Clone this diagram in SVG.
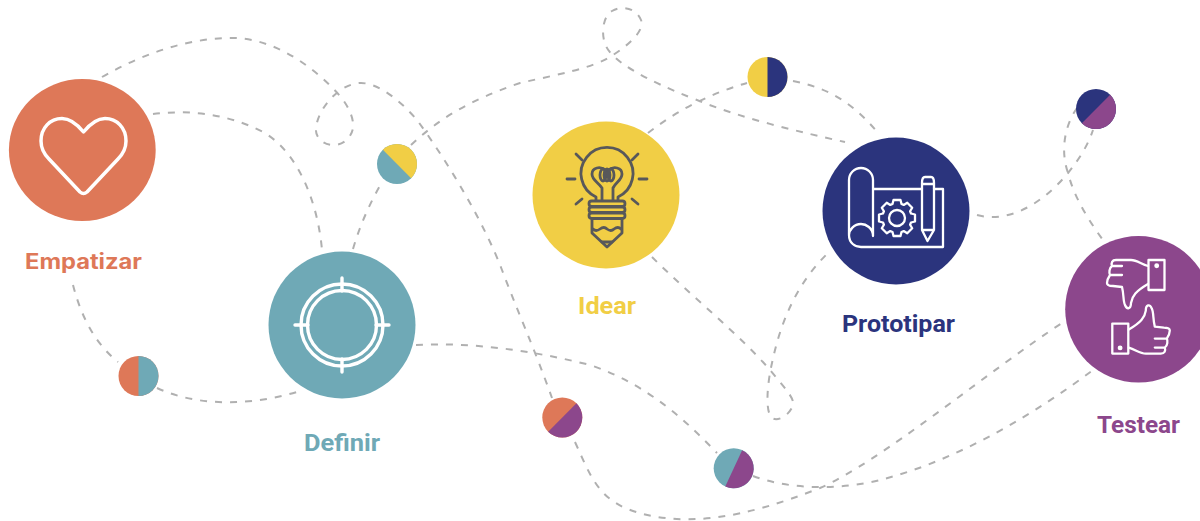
<svg xmlns="http://www.w3.org/2000/svg" xmlns:xlink="http://www.w3.org/1999/xlink" width="1200" height="521" viewBox="0 0 1200 521">
<style>
.c{fill:none;stroke:#b0b0b0;stroke-width:2;stroke-dasharray:7 8}
.w{fill:none;stroke:#fff;stroke-linecap:round;stroke-linejoin:round}
.b{fill:none;stroke:#58585a;stroke-width:2.800;stroke-linecap:round;stroke-linejoin:round}
.t{font-family:Roboto,"Liberation Sans",sans-serif;font-weight:700;font-size:23px}
.m{font-family:Inter,"Liberation Sans",sans-serif;font-weight:700;font-size:21px}
.org{fill:#de7858}.tea{fill:#6fa9b6}.yel{fill:#f1ce45}.nav{fill:#2b347d}.pur{fill:#8c478c}
</style>
<defs>
<path id="half" d="M0-20A20 20 0 0 1 0 20Z"/>
<g id="thumb" class="w" stroke-width="2.300">
<rect x="1148.500" y="260" width="16" height="30"/>
<circle cx="1156.700" cy="265.700" r="1.300" fill="#fff"/>
<path d="M1148 266C1141 264 1137 260 1131 260L1116 260C1112 260 1111 263 1112 266L1122 266M1112 266C1109 268 1109 273 1110 275L1122 275M1110 275C1108 278 1107 281 1107 283C1107 286 1110 286 1113 286L1122 287C1124 295 1123 301 1125 305C1127 310 1131 309 1131 303C1132 296 1136 291 1148 284"/>
</g>
</defs>
<rect width="1200" height="521" fill="#fff"/>
<g id="connectors">
<path class="c" d="M102 77C146 52 190 38 232 38C278 38 319 72 340 96C350 108 354 120 353 128C351 140 340 146 332 145C322 144 315 137 316 128C318 108 340 83 361 83C378 83 400 100 417 120C450 165 485 225 502 270C515 305 535 350 552 398"/>
<path class="c" d="M153 114C185 110 225 112 265 133C300 155 318 205 322 250"/>
<path class="c" d="M73 285C82 320 97 345 118 362"/>
<path class="c" d="M157 388C200 408 255 405 300 391"/>
<path class="c" d="M353 249C360 225 370 203 381 184"/>
<path class="c" d="M411 145C440 118 470 100 520 83C555 75 595 68 613 55C630 44 645 30 641 20C636 8 622 5 612 11C602 17 601 36 606 46C612 60 640 78 697 100C740 118 800 132 845 142"/>
<path class="c" d="M648 133C680 108 715 92 747 83"/>
<path class="c" d="M793 81C830 88 855 105 878 133"/>
<path class="c" d="M652 257C690 295 740 335 770 370C782 385 795 398 793 405C790 415 778 422 772 418C765 412 767 385 772 363C780 325 795 285 828 253"/>
<path class="c" d="M416 345C470 342 530 350 590 365C650 385 690 425 717 453"/>
<path class="c" d="M575 442C590 475 597 495 625 508C680 530 745 518 820 488C880 462 990 370 1062 323"/>
<path class="c" d="M753 476C790 490 840 490 880 480C960 460 1040 410 1093 370"/>
<path class="c" d="M977 215C1015 225 1050 195 1068 173C1080 158 1088 145 1093 130"/>
<path class="c" d="M1077 108C1065 125 1060 150 1068 173C1075 200 1090 222 1105 243"/>
</g>
<g id="empatizar">
<ellipse class="org" cx="82.300" cy="150" rx="73.400" ry="71"/>
<path class="w" stroke-width="3.500" d="M83.500 132C77 124 70 118.500 62 118.500C50 118.500 41 128 41 141C41 149 44 154 49 159L80 192Q83.500 195 87 192L118 159C123 154 126 149 126 141C126 128 117 118.500 105 118.500C97 118.500 90 124 83.500 132Z"/>
<text class="m org" x="25" y="269" textLength="117" lengthAdjust="spacingAndGlyphs">Empatizar</text>
</g>
<g id="definir">
<circle class="tea" cx="342" cy="325" r="73.500"/>
<g class="w" stroke-width="3.400">
<circle cx="342" cy="325" r="41"/>
<circle cx="342" cy="325" r="34.500"/>
<path d="M342 278V291M342 359V372M295 325H308M376 325H389"/>
</g>
<text class="t tea" x="304" y="451" textLength="76" lengthAdjust="spacingAndGlyphs">Definir</text>
</g>
<g id="idear">
<circle class="yel" cx="606" cy="195" r="73.500"/>
<g class="b">
<path d="M567 179H575M639 179H647M576 154L582 160M638 154L632 160M576 204L582 199M638 204L632 199"/>
<path d="M596 200L596 197A26 26 0 1 1 618 197L618 200"/>
<path d="M602 200V188C598 182 592 180 592 174C592 168 600 165 607 171C614 165 622 168 622 174C622 180 616 182 613 188V200"/>
<ellipse cx="603" cy="175" rx="3" ry="6"/><ellipse cx="607" cy="175" rx="3" ry="6"/><ellipse cx="611" cy="175" rx="3" ry="6"/>
<rect x="589" y="201" width="36" height="5.500" rx="2.700"/>
<rect x="589" y="207" width="36" height="5.500" rx="2.700"/>
<rect x="589" y="213" width="36" height="5.500" rx="2.700"/>
<path d="M592 219V233L607 247L622 233V219"/>
<path d="M593 229Q596 232 600 229Q604 226 607 229Q611 232 614 229Q618 226 621 229"/>
<path d="M602 242H612"/>
</g>
<text class="t yel" x="578" y="314" textLength="58" lengthAdjust="spacingAndGlyphs">Idear</text>
</g>
<g id="prototipar">
<circle class="nav" cx="896" cy="211" r="73.500"/>
<g class="w" stroke-width="2.300">
<path d="M849 235V180A12 12 0 0 1 873 180V236C873 228 866 224 861 224C854 224 849 230 849 235C849 243 855 247 861 247H943V189H934M873 189H922"/>
<path d="M922 183V230L927.500 241L934 230V183Q934 177 931 177H925Q922 177 922 183ZM922 184H934M922 230H934"/>
<circle cx="897" cy="218" r="8"/>
<path transform="translate(897 218)" d="M14-4.500L18-3.500L18 3.500L14 4.500L13.080 6.720L15.200 10.250L10.250 15.200L6.720 13.080L4.500 14L3.500 18L-3.500 18L-4.500 14L-6.720 13.080L-10.250 15.200L-15.200 10.250L-13.080 6.720L-14 4.500L-18 3.500L-18-3.500L-14-4.500L-13.080-6.720L-15.200-10.250L-10.250-15.200L-6.720-13.080L-4.500-14L-3.500-18L3.500-18L4.500-14L6.720-13.080L10.250-15.200L15.200-10.250L13.080-6.720Z"/>
</g>
<text class="t nav" x="842" y="332" textLength="113" lengthAdjust="spacingAndGlyphs">Prototipar</text>
</g>
<g id="testear">
<circle class="pur" cx="1138.500" cy="309.300" r="73.300"/>
<use xlink:href="#thumb" href="#thumb"/>
<use xlink:href="#thumb" href="#thumb" transform="rotate(180 1138.400 306.800)"/>
<text class="t pur" x="1097" y="433" textLength="83" lengthAdjust="spacingAndGlyphs">Testear</text>
</g>
<g id="mix-empatizar-definir"><circle class="org" cx="138.500" cy="376" r="20"/><use xlink:href="#half" href="#half" class="tea" transform="translate(138.500 376)"/></g>
<g id="mix-definir-idear"><circle class="tea" cx="397" cy="164" r="20"/><use xlink:href="#half" href="#half" class="yel" transform="translate(397 164) rotate(-45)"/></g>
<g id="mix-idear-prototipar"><circle class="yel" cx="767.500" cy="77" r="20"/><use xlink:href="#half" href="#half" class="nav" transform="translate(767.500 77)"/></g>
<g id="mix-prototipar-testear"><circle class="nav" cx="1096" cy="109" r="20"/><use xlink:href="#half" href="#half" class="pur" transform="translate(1096 109) rotate(45)"/></g>
<g id="mix-empatizar-testear"><circle class="org" cx="562.300" cy="417.500" r="20"/><use xlink:href="#half" href="#half" class="pur" transform="translate(562.300 417.500) rotate(45)"/></g>
<g id="mix-definir-testear"><circle class="tea" cx="733.700" cy="468.300" r="20"/><use xlink:href="#half" href="#half" class="pur" transform="translate(733.700 468.300) rotate(25)"/></g>
</svg>
